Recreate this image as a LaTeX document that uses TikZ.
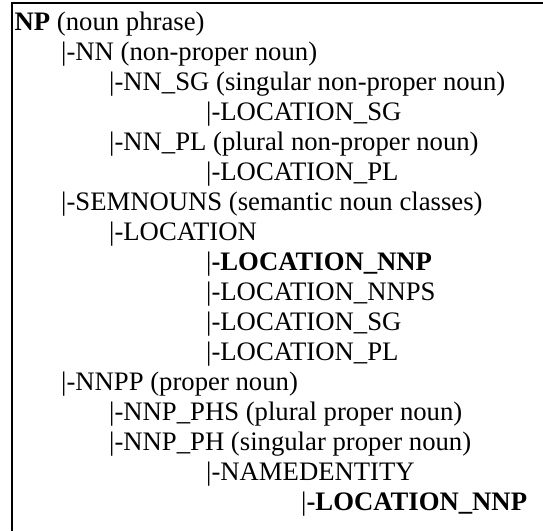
\documentclass[tikz,border=0pt]{standalone}
\usepackage{fontspec}
\setmainfont{Liberation Serif}
\tikzset{entry/.style={anchor=base west, inner sep=0pt, font=\fontsize{26.7}{30}\selectfont}}
\begin{document}
\begin{tikzpicture}[x=1pt,y=-1pt]
        \useasboundingbox (0,0) rectangle (543,531);
        \draw[line width=2.4pt] (12,531) |- (543,3);

        \node[entry](np) at (14.5,30){\textbf{NP} (noun phrase)};
        \node[entry](nn) at (61,60){|-NN (non-proper noun)};
        \node[entry](nnsg) at (109,90){|-NN\_SG (singular non-proper noun)};
        \node[entry](locsg) at (206,120){|-LOCATION\_SG};
        \node[entry](nnpl) at (109,150){|-NN\_PL (plural non-proper noun)};
        \node[entry](locpl) at (206,180){|-LOCATION\_PL};

        \node[entry](semnouns) at (61,210){|-SEMNOUNS (semantic noun classes)};
        \node[entry](location) at (109,240){|-LOCATION};
        \node[entry](locnnp) at (206,270){|\textbf{-LOCATION\_NNP}};
        \node[entry](locnnps) at (206,300){|-LOCATION\_NNPS};
        \node[entry](locsgb) at (206,330){|-LOCATION\_SG};
        \node[entry](locplb) at (206,360){|-LOCATION\_PL};

        \node[entry](nnpp) at (61,390){|-NNPP (proper noun)};
        \node[entry](nnpphs) at (109,420){|-NNP\_PHS (plural proper noun)};
        \node[entry](nnpph) at (109,450){|-NNP\_PH (singular proper noun)};
        \node[entry](named) at (206,480){|-NAMEDENTITY};
        \node[entry](namedloc) at (301,510){|\textbf{-LOCATION\_NNP}};
    \end{tikzpicture}
\end{document}
